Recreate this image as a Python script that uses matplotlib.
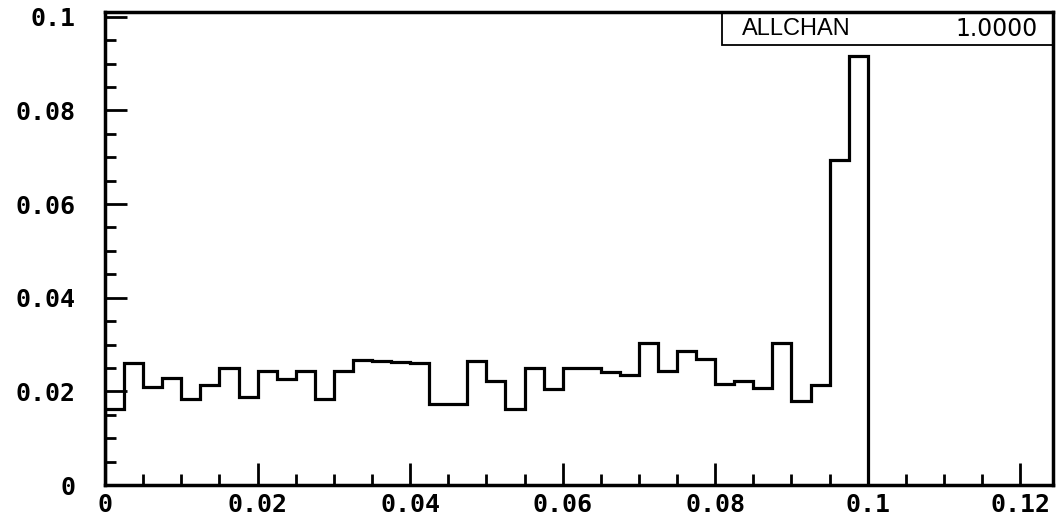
import numpy as np
import matplotlib
matplotlib.use("Agg")
import matplotlib.pyplot as plt
from matplotlib.patches import Rectangle
from matplotlib.ticker import MultipleLocator

# 40 bins of width 0.0025 from 0 to 0.1
bin_edges = np.linspace(0.0, 0.1, 41)
counts = [0.0162, 0.0261, 0.0210, 0.0229, 0.0183, 0.0213, 0.0249, 0.0189,
          0.0243, 0.0226, 0.0243, 0.0184, 0.0243, 0.0266, 0.0265, 0.0263,
          0.0261, 0.0172, 0.0172, 0.0265, 0.0223, 0.0163, 0.0250, 0.0206,
          0.0250, 0.0250, 0.0241, 0.0234, 0.0304, 0.0243, 0.0286, 0.0270,
          0.0215, 0.0222, 0.0208, 0.0304, 0.0179, 0.0213, 0.0695, 0.0917]
hist_name = "ALLCHAN"
hist_norm = "1.0000"
xticks = [0, 0.02, 0.04, 0.06, 0.08, 0.1, 0.12]
xtick_labels = ["0", "0.02", "0.04", "0.06", "0.08", "0.1", "0.12"]
yticks = [0, 0.02, 0.04, 0.06, 0.08, 0.1]
ytick_labels = ["0", "0.02", "0.04", "0.06", "0.08", "0.1"]

fig = plt.figure(figsize=(10.61, 5.21), dpi=100)
ax = fig.add_axes([0.099, 0.069, 0.8935, 0.908])

ax.stairs(counts, bin_edges, baseline=0, color="black", lw=2.3)

ax.set_xlim(0, 0.1243)
ax.set_ylim(0, 0.101)
ax.set_xticks(xticks)
ax.set_xticklabels(xtick_labels)
ax.set_yticks(yticks)
ax.set_yticklabels(ytick_labels)
ax.xaxis.set_minor_locator(MultipleLocator(0.005))
ax.yaxis.set_minor_locator(MultipleLocator(0.005))

tick_font = dict(family="DejaVu Sans Mono", weight="bold", size=18)
for lab in ax.get_xticklabels() + ax.get_yticklabels():
    lab.set_fontproperties(matplotlib.font_manager.FontProperties(**tick_font))

ax.tick_params(which="major", direction="in", length=16, width=2, color="black")
ax.tick_params(which="minor", direction="in", length=8, width=2, color="black")
ax.tick_params(axis="x", which="major", pad=6)
ax.tick_params(axis="y", which="major", pad=21)
for sp in ax.spines.values():
    sp.set_linewidth(2.5)

# stats box in the top right corner
ax.add_patch(Rectangle((0.6505, 0.930), 0.3495, 0.07, transform=ax.transAxes,
                       fill=False, edgecolor="black", lw=1.3, clip_on=False))
ax.text(0.672, 0.963, hist_name, transform=ax.transAxes, ha="left", va="center",
        fontsize=17, family="Liberation Sans")
ax.text(0.984, 0.963, hist_norm, transform=ax.transAxes, ha="right", va="center",
        fontsize=17, family="DejaVu Sans")

fig.savefig("out.png", dpi=100)
